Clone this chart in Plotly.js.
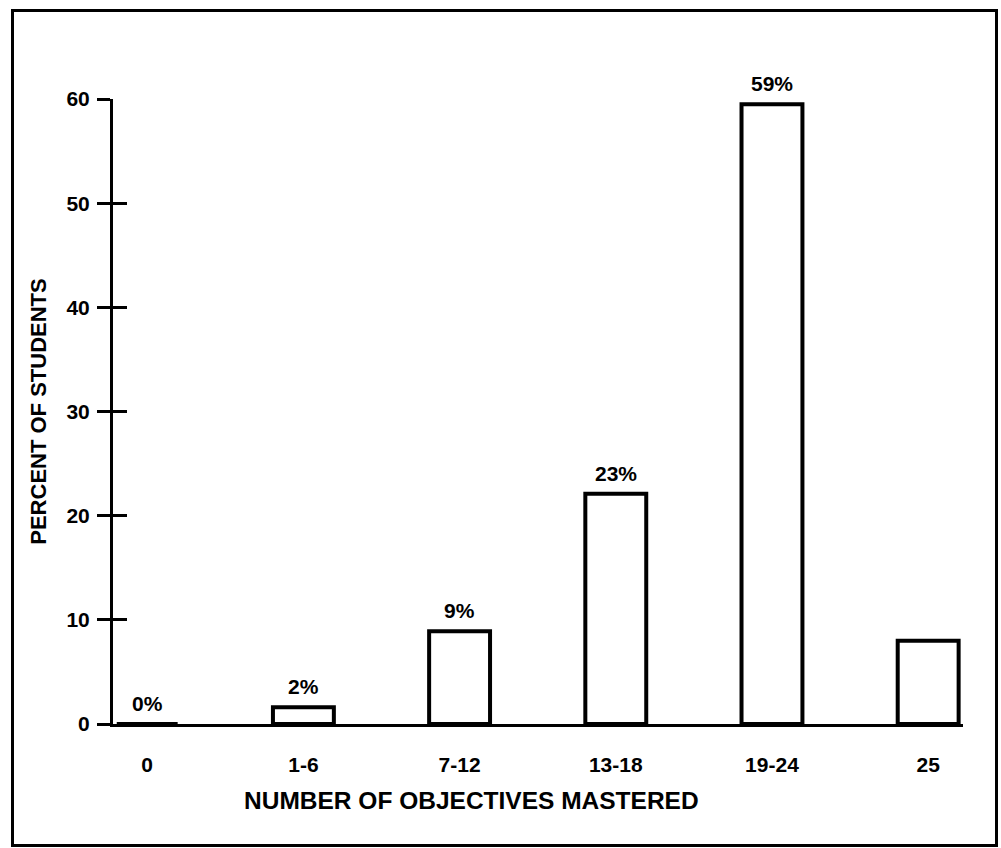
<!DOCTYPE html>
<html>
<head>
<meta charset="utf-8">
<script src="https://cdn.plot.ly/plotly-3.0.1.min.js"></script>
<style>
  html, body { margin: 0; padding: 0; background: #fff; }
  #wrap { position: relative; width: 1001px; height: 848px; }
  #chart { width: 1001px; height: 848px; }
  #frame { position: absolute; left: 11px; top: 9px; width: 981px; height: 832px;
           border: 3px solid #000; pointer-events: none; }
</style>
</head>
<body>
<div id="wrap">
  <div id="chart"></div>
  <div id="frame"></div>
</div>
<script>
// Data
const categories = ["0", "1-6", "7-12", "13-18", "19-24", "25"];
const percentValues = [0, 1.6, 8.9, 22.1, 59.5, 8.0];
const percentLabels = ["0%", "2%", "9%", "23%", "59%", "8%"];
const yTickValues = [0, 10, 20, 30, 40, 50, 60];

const FONT = "'Liberation Sans', Arial, Helvetica, sans-serif";

const bars = {
  type: "bar",
  x: categories,
  y: percentValues,
  width: 0.39,
  marker: { color: "#ffffff", line: { color: "#000000", width: 4 } },
  hoverinfo: "x+y",
  showlegend: false
};

// invisible trace to carry the inside half of the crossing y ticks
const tickHelper = {
  type: "scatter", mode: "markers",
  x: [categories[0]], y: [0], yaxis: "y2",
  marker: { opacity: 0 }, hoverinfo: "skip", showlegend: false
};

const annotations = categories.map((c, i) => ({
  x: c, y: percentValues[i], xref: "x", yref: "y",
  text: percentLabels[i], showarrow: false,
  yanchor: "bottom", yshift: 7,
  font: { family: FONT, size: 21, color: "#000", weight: 700 }
}));

annotations.push({
  text: "NUMBER OF OBJECTIVES MASTERED",
  xref: "paper", yref: "paper", x: 0.422, y: -0.123,
  xanchor: "center", yanchor: "middle", showarrow: false,
  font: { family: FONT, size: 24.5, color: "#000", weight: 700 }
});

const layout = {
  width: 1001, height: 848,
  margin: { l: 113, r: 38, t: 99, b: 124 },
  paper_bgcolor: "#fff", plot_bgcolor: "#fff",
  bargap: 0,
  xaxis: {
    type: "category",
    range: [-0.219, 5.223],
    showgrid: false, zeroline: false,
    showline: true, linecolor: "#000", linewidth: 3,
    ticks: "", ticklabelstandoff: 20,
    tickfont: { family: FONT, size: 21, color: "#000", weight: 700 },
    fixedrange: true
  },
  yaxis: {
    range: [0, 60],
    tickvals: yTickValues,
    showgrid: false, zeroline: false,
    showline: true, linecolor: "#000", linewidth: 3,
    ticks: "outside", ticklen: 13, tickwidth: 3, tickcolor: "#000",
    ticklabelstandoff: 3,
    tickfont: { family: FONT, size: 21, color: "#000", weight: 700 },
    title: { text: "PERCENT OF STUDENTS", standoff: 14,
             font: { family: FONT, size: 22, color: "#000", weight: 700 } },
    fixedrange: true
  },
  yaxis2: {
    overlaying: "y", side: "left", anchor: "x",
    range: [0, 60], tickvals: yTickValues,
    showgrid: false, zeroline: false, showline: false,
    ticks: "inside", ticklen: 14, tickwidth: 3, tickcolor: "#000",
    showticklabels: false, fixedrange: true
  },
  annotations: annotations
};

Plotly.newPlot("chart", [bars, tickHelper], layout, { displayModeBar: false, staticPlot: true });
</script>
</body>
</html>
